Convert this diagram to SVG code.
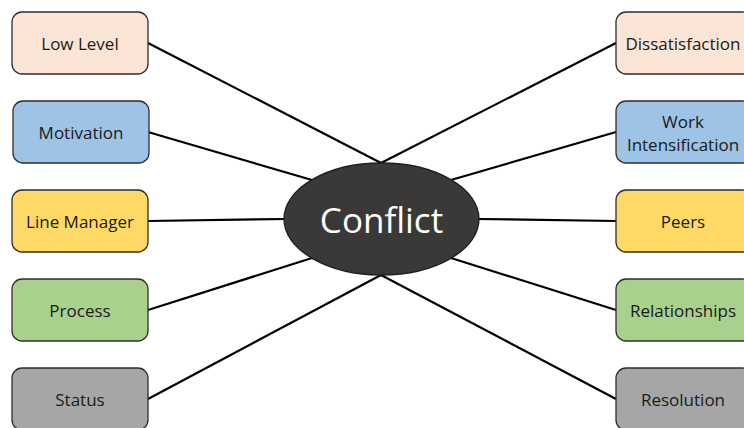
<svg xmlns="http://www.w3.org/2000/svg" width="744" height="428" viewBox="0 0 744 428">
<style>
.box{stroke:#2e2e2e;stroke-width:1.3}
.lbl{font-family:"Open Sans","Liberation Sans",sans-serif;font-size:17px;fill:#1a1a1a;text-anchor:middle;dominant-baseline:central}
.ln{stroke:#000;stroke-width:2.2;fill:none}
.peach{fill:#FBE5D6}.blue{fill:#9DC3E6}.yellow{fill:#FFD966}.green{fill:#A9D18E}.gray{fill:#A6A6A6}
</style>
<rect width="744" height="428" fill="#fff"/>
<g id="connectors">
<line class="ln" x1="148" y1="43" x2="381" y2="163"/>
<line class="ln" x1="616" y1="43" x2="381" y2="163"/>
<line class="ln" x1="148" y1="132" x2="312" y2="180"/>
<line class="ln" x1="616" y1="132" x2="451" y2="180"/>
<line class="ln" x1="148" y1="221" x2="286" y2="219"/>
<line class="ln" x1="616" y1="221" x2="478" y2="219"/>
<line class="ln" x1="148" y1="310" x2="312" y2="258"/>
<line class="ln" x1="616" y1="310" x2="451" y2="258"/>
<line class="ln" x1="148" y1="399" x2="381" y2="275"/>
<line class="ln" x1="616" y1="399" x2="381" y2="275"/>
</g>
<g id="conflict">
<ellipse cx="381.5" cy="219" rx="97.5" ry="56" fill="#3B3838" stroke="#1e1e1e" stroke-width="1.3"/>
<text x="381.5" y="219" class="lbl" style="font-size:35px;fill:#fff">Conflict</text>
</g>
<g id="low-level"><rect class="box peach" x="12" y="12" width="136" height="62" rx="10"/><text class="lbl" x="80" y="43">Low Level</text></g>
<g id="motivation"><rect class="box blue" x="13" y="101" width="136" height="62" rx="10"/><text class="lbl" x="81" y="132">Motivation</text></g>
<g id="line-manager"><rect class="box yellow" x="12" y="190" width="136" height="62" rx="10"/><text class="lbl" x="80" y="221">Line Manager</text></g>
<g id="process"><rect class="box green" x="12" y="279" width="136" height="62" rx="10"/><text class="lbl" x="80" y="310">Process</text></g>
<g id="status"><rect class="box gray" x="12" y="368" width="136" height="62" rx="10"/><text class="lbl" x="80" y="399">Status</text></g>
<g id="dissatisfaction"><rect class="box peach" x="616" y="12" width="136" height="62" rx="10"/><text class="lbl" x="683" y="43">Dissatisfaction</text></g>
<g id="work-intensification"><rect class="box blue" x="616" y="101" width="136" height="62" rx="10"/><text class="lbl" x="683" y="121">Work</text><text class="lbl" x="683" y="144">Intensification</text></g>
<g id="peers"><rect class="box yellow" x="616" y="190" width="136" height="62" rx="10"/><text class="lbl" x="683" y="221">Peers</text></g>
<g id="relationships"><rect class="box green" x="616" y="279" width="136" height="62" rx="10"/><text class="lbl" x="683" y="310">Relationships</text></g>
<g id="resolution"><rect class="box gray" x="616" y="368" width="136" height="62" rx="10"/><text class="lbl" x="683" y="399">Resolution</text></g>
</svg>
